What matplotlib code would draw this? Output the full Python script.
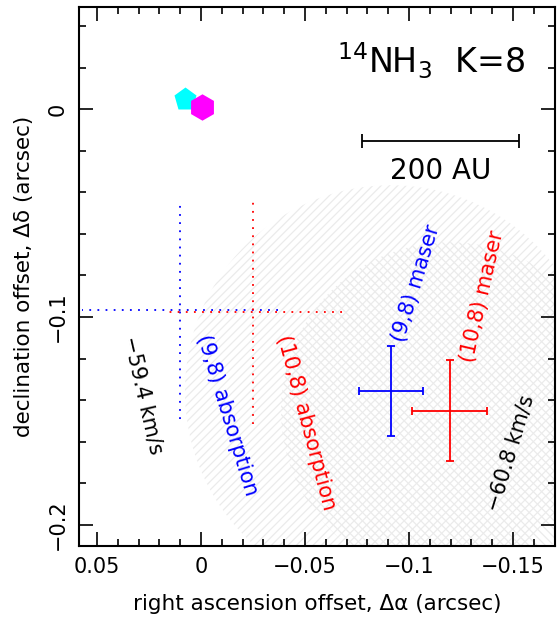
import numpy as np
import matplotlib.pyplot as plt
from matplotlib.patches import Circle
from matplotlib.ticker import MultipleLocator, FuncFormatter

# absorption positions (dotted crosses): (9,8) blue, (10,8) red
abs_x = [0.010, -0.025]
abs_y = [-0.0964, -0.0975]
abs_xerr = [0.047, 0.0426]
abs_yerr = [0.0524, 0.054]

# maser positions (solid crosses)
mas_x = [-0.0913, -0.1195]
mas_y = [-0.1356, -0.1450]
mas_xerr = [0.0154, 0.0179]
mas_yerr = [0.0215, 0.0244]

colors = ['blue', 'red']

# continuum peaks
cont_x = [0.0077, -0.0003]
cont_y = [0.0051, 0.0008]

# hatched regions round the masers
circ_r = [0.099, 0.081]
circ_hatch = ['////', '\\\\\\\\']

# scale bar (200 AU)
bar_x = [-0.0773, -0.1531]
bar_y = -0.0155

plt.rcParams['hatch.linewidth'] = 0.9
fig = plt.figure(figsize=(5.57, 6.23), dpi=100)
ax = fig.add_axes([0.1413, 0.1236, 0.8551, 0.8647])

# hatched circles
for x, y, r, h in zip(mas_x, mas_y, circ_r, circ_hatch):
    ax.add_patch(Circle((x, y), r, facecolor='none', edgecolor='#ebebeb',
                        hatch=h, linewidth=0, zorder=1))

# dotted absorption crosses
for i in range(2):
    ax.plot([abs_x[i] - abs_xerr[i], abs_x[i] + abs_xerr[i]], [abs_y[i], abs_y[i]],
            color=colors[i], ls=(0, (1, 3.5)), lw=1.3, zorder=3)
    ax.plot([abs_x[i], abs_x[i]], [abs_y[i] - abs_yerr[i], abs_y[i] + abs_yerr[i]],
            color=colors[i], ls=(0, (1, 3.5)), lw=1.3, zorder=3)

# maser crosses
for i in range(2):
    ax.errorbar(mas_x[i], mas_y[i], xerr=mas_xerr[i], yerr=mas_yerr[i],
                color=colors[i], lw=1.3, capsize=3, capthick=1.3, zorder=4)

# continuum markers
ax.plot(cont_x[0], cont_y[0], marker='p', ms=17, color='cyan', mec='none', zorder=5)
ax.plot(cont_x[1], cont_y[1], marker='h', ms=19, color='magenta', mec='none', zorder=6)

# scale bar
ax.errorbar(np.mean(bar_x), bar_y, xerr=abs(bar_x[1] - bar_x[0]) / 2, color='black',
            lw=1.3, capsize=5, capthick=1.3)
ax.text(np.mean(bar_x), bar_y - 0.0075, '200 AU', ha='center', va='top', fontsize=20)

ax.text(-0.1558, 0.0173, r'$^{14}$NH$_3$  K=8', ha='right', va='baseline', fontsize=24)

# labels on the crosses
lab_fs = 15
ax.text(0.0279, -0.1375, '\u221259.4 km/s', rotation=-77, rotation_mode='anchor',
        ha='center', va='center', fontsize=lab_fs, color='black')
ax.text(-0.0125, -0.1471, '(9,8) absorption', rotation=-73, rotation_mode='anchor',
        ha='center', va='center', fontsize=lab_fs, color='blue')
ax.text(-0.0505, -0.1505, '(10,8) absorption', rotation=-75, rotation_mode='anchor',
        ha='center', va='center', fontsize=lab_fs, color='red')
ax.text(-0.1034, -0.0837, '(9,8) maser', rotation=73, rotation_mode='anchor',
        ha='center', va='center', fontsize=lab_fs, color='blue')
ax.text(-0.1351, -0.0899, '(10,8) maser', rotation=77, rotation_mode='anchor',
        ha='center', va='center', fontsize=lab_fs, color='red')
ax.text(-0.149, -0.1654, '\u221260.8 km/s', rotation=73, rotation_mode='anchor',
        ha='center', va='center', fontsize=lab_fs, color='black')

ax.set_xlim(0.0588, -0.1702)
ax.set_ylim(-0.21, 0.0489)
ax.set_aspect('equal')

fmt = FuncFormatter(lambda v, p: ('%g' % round(v, 3)).replace('-', '\u2212'))
ax.xaxis.set_major_locator(MultipleLocator(0.05))
ax.xaxis.set_minor_locator(MultipleLocator(0.01))
ax.yaxis.set_major_locator(MultipleLocator(0.1))
ax.yaxis.set_minor_locator(MultipleLocator(0.02))
ax.xaxis.set_major_formatter(fmt)
ax.yaxis.set_major_formatter(fmt)
ax.tick_params(which='both', direction='in', top=True, right=True, width=1.2)
ax.tick_params(which='major', length=10, labelsize=15, pad=8)
ax.tick_params(which='minor', length=5)
for t in ax.get_yticklabels():
    t.set_rotation(90)
    t.set_va('center')
for s in ax.spines.values():
    s.set_linewidth(1.5)

ax.set_xlabel('right ascension offset, \u0394\u03b1 (arcsec)', fontsize=15.5, labelpad=12)
ax.set_ylabel('declination offset, \u0394\u03b4 (arcsec)', fontsize=15.5, labelpad=10)

fig.savefig('out.png', dpi=100)
